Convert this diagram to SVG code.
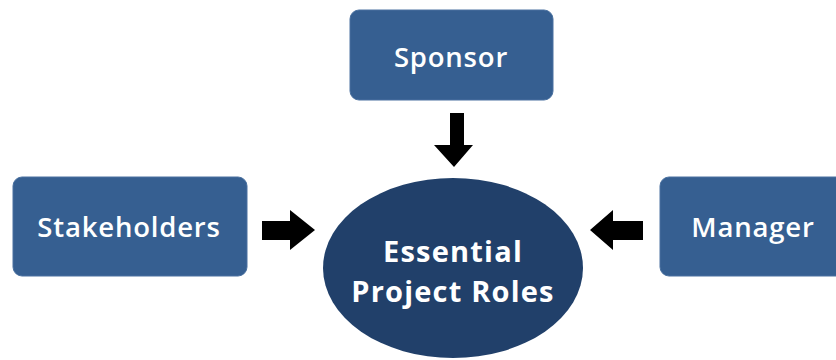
<svg xmlns="http://www.w3.org/2000/svg" width="836" height="360" viewBox="0 0 836 360">
<style>
.box{fill:#365F91;stroke:#4A71A0;stroke-width:1}
.lbl{font-family:"Open Sans",Lato,"Liberation Sans",sans-serif;font-weight:600;fill:#fff;text-anchor:middle;letter-spacing:0.8px}
.big{font-weight:bold;font-size:29px;letter-spacing:1.2px}
.arrow{fill:#000}
</style>
<rect width="836" height="360" fill="#fff"/>
<g id="connectors">
<polygon class="arrow" points="450,113 464,113 464,145 473,145 454,167 434,145 450,145"/>
<polygon class="arrow" points="262,221 290,221 290,210 315,230 290,250 290,240 262,240"/>
<polygon class="arrow" points="643,221 613,221 613,210 590,230 613,250 613,240 643,240"/>
</g>
<g id="sponsor">
<rect class="box" x="350" y="10" width="203" height="90" rx="9"/>
<text class="lbl" x="451" y="67" font-size="27.5">Sponsor</text>
</g>
<g id="stakeholders">
<rect class="box" x="13" y="177" width="234" height="99" rx="9"/>
<text class="lbl" x="129" y="237" font-size="27.5">Stakeholders</text>
</g>
<g id="manager">
<rect class="box" x="660" y="177" width="190" height="99" rx="9"/>
<text class="lbl" x="753" y="237" font-size="27.5">Manager</text>
</g>
<g id="essential">
<ellipse cx="453" cy="268" rx="130" ry="90" fill="#21406A"/>
<text class="lbl big" x="453" y="262">Essential</text>
<text class="lbl big" x="453" y="302">Project Roles</text>
</g>
</svg>
